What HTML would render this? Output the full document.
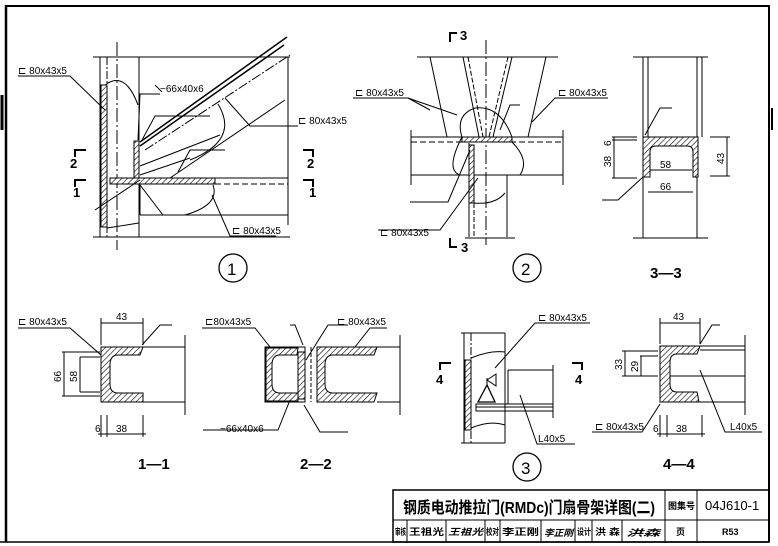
<!DOCTYPE html>
<html><head><meta charset="utf-8"><style>
html,body{margin:0;padding:0;background:#fff}
svg{display:block}
text{font-family:"Liberation Sans","Noto Sans CJK SC",sans-serif;fill:#000}
</style></head><body>
<svg width="778" height="546" viewBox="0 0 778 546" xmlns="http://www.w3.org/2000/svg">
<defs>
<pattern id="h" width="4" height="4" patternUnits="userSpaceOnUse" patternTransform="rotate(45)">
<rect width="4" height="4" fill="#fff"/><line x1="0" y1="0" x2="0" y2="4" stroke="#000" stroke-width="1.2"/>
</pattern>
</defs>
<g fill="none" stroke="#000" stroke-width="1">
<line x1="6" y1="6" x2="769" y2="6" stroke-width="2"/>
<line x1="6" y1="5" x2="6" y2="542" stroke-width="2.5"/>
<line x1="769" y1="5" x2="769" y2="542" stroke-width="2"/>
<line x1="0" y1="542" x2="769" y2="542" stroke-width="1.5"/>
<line x1="2" y1="95" x2="2" y2="130" stroke-width="3"/>
<line x1="772" y1="108" x2="772" y2="130" stroke-width="2"/>
<rect x="393" y="490" width="376" height="52" stroke-width="1.5"/>
<line x1="393" y1="520" x2="769" y2="520"/>
<line x1="665" y1="490" x2="665" y2="542"/>
<line x1="697" y1="490" x2="697" y2="542"/>
<line x1="407" y1="520" x2="407" y2="542"/>
<line x1="446" y1="520" x2="446" y2="542"/>
<line x1="485" y1="520" x2="485" y2="542"/>
<line x1="500" y1="520" x2="500" y2="542"/>
<line x1="541" y1="520" x2="541" y2="542"/>
<line x1="575" y1="520" x2="575" y2="542"/>
<line x1="592" y1="520" x2="592" y2="542"/>
<line x1="622" y1="520" x2="622" y2="542"/>

<line x1="93" y1="57" x2="290" y2="57"/>
<line x1="100" y1="57" x2="100" y2="237"/>
<line x1="107" y1="57" x2="107" y2="237" stroke-dasharray="8,2,2,2"/>
<line x1="117" y1="42" x2="117" y2="250" stroke-dasharray="14,3,2,3"/>
<line x1="139" y1="57" x2="139" y2="237"/>
<line x1="93" y1="237" x2="290" y2="237"/>
<line x1="288" y1="57" x2="288" y2="225"/>
<rect x="101" y="85" width="6" height="142" fill="url(#h)"/>
<rect x="134" y="141" width="5" height="38" fill="url(#h)"/>
<rect x="110" y="178" width="105" height="6" fill="url(#h)"/>
<line x1="215" y1="178" x2="288" y2="178"/>
<line x1="215" y1="184" x2="288" y2="184" stroke-dasharray="6,3"/>
<line x1="140" y1="184" x2="140" y2="215"/>
<line x1="140" y1="215" x2="288" y2="215"/>
<line x1="140" y1="142" x2="287" y2="37" stroke-width="1.5"/>
<line x1="140" y1="146" x2="284" y2="45" stroke-width="1.5"/>
<line x1="145" y1="150" x2="290" y2="55" stroke-dasharray="10,2,2,2"/>
<line x1="95" y1="210" x2="140" y2="180"/>
<line x1="170" y1="178" x2="285" y2="100"/>
<line x1="140" y1="166" x2="220" y2="135"/>
<line x1="140" y1="175" x2="190" y2="158"/>
<path d="M218 104 Q240 140 190 160"/>
<path d="M105 85 Q125 70 138 105"/>
<path d="M213 185 Q220 205 185 215"/>
<path d="M107 228 L139 223"/>
<polyline points="18,76 70,76 105,110"/>
<polyline points="210,116 155,116 142,140"/>
<polyline points="160,94 140,94 138,140"/>
<line x1="155" y1="85" x2="162" y2="92"/>
<polyline points="298,126 250,126 225,98"/>
<polyline points="276,236 230,236 212,195"/>
<polyline points="140,185 163,215 190,215"/>
<polyline points="225,150 190,150 178,172"/>
<polyline points="75,157 75,150 86,150" stroke-width="2"/>
<polyline points="75,187 75,180 86,180" stroke-width="2"/>
<polyline points="303,150 313,150 313,157" stroke-width="2"/>
<polyline points="303,180 313,180 313,187" stroke-width="2"/>
<circle cx="233" cy="268" r="14" stroke-width="1.3"/>

<line x1="417" y1="57" x2="558" y2="57"/>
<line x1="430" y1="57" x2="447" y2="137"/>
<line x1="546" y1="57" x2="528" y2="137"/>
<line x1="463" y1="57" x2="479" y2="137"/>
<line x1="468" y1="57" x2="483" y2="137" stroke-dasharray="5,2"/>
<line x1="512" y1="57" x2="493" y2="137"/>
<line x1="508" y1="57" x2="489" y2="137" stroke-dasharray="5,2"/>
<line x1="486" y1="40" x2="486" y2="245" stroke-dasharray="14,3,2,3"/>
<line x1="411" y1="137" x2="563" y2="137"/>
<rect x="462" y="137" width="50" height="5" fill="url(#h)"/>
<line x1="411" y1="142" x2="563" y2="142" stroke-dasharray="6,3"/>
<line x1="411" y1="175" x2="563" y2="175"/>
<line x1="411" y1="130" x2="411" y2="185"/>
<line x1="563" y1="130" x2="563" y2="185"/>
<line x1="469" y1="143" x2="469" y2="237"/>
<line x1="474" y1="175" x2="474" y2="237" stroke-dasharray="5,2"/>
<line x1="507" y1="175" x2="507" y2="237"/>
<rect x="469" y="145" width="5" height="58" fill="url(#h)"/>
<line x1="465" y1="238" x2="515" y2="238"/>
<path d="M462 137 Q455 115 475 108 Q500 105 512 137"/>
<path d="M462 137 Q445 170 460 175"/>
<path d="M512 142 Q530 160 520 175"/>
<path d="M474 203 Q495 205 505 193"/>
<polyline points="353,98 408,98 457,115"/>
<line x1="408" y1="98" x2="430" y2="110"/>
<polyline points="608,98 555,98 532,122"/>
<polyline points="520,105 510,105 500,130"/>
<polyline points="378,230 440,230 478,178"/>
<polyline points="410,202 448,202 470,150"/>
<polyline points="450,42 450,33 457,33" stroke-width="2"/>
<polyline points="450,238 450,247 457,247" stroke-width="2"/>
<circle cx="527" cy="268" r="14" stroke-width="1.3"/>

<line x1="633" y1="57" x2="708" y2="57"/>
<line x1="633" y1="238" x2="708" y2="238"/>
<line x1="643" y1="57" x2="643" y2="238"/>
<line x1="648" y1="57" x2="648" y2="137"/>
<line x1="697" y1="57" x2="697" y2="238"/>
<line x1="702" y1="57" x2="702" y2="137"/>
<path d="M643 137 H698 V177 H693 V152 Q693 146 687 146 H656 Q650 146 650 152 V177 H643 Z" fill="url(#h)"/>
<line x1="612" y1="137" x2="637" y2="137"/><line x1="612" y1="140" x2="637" y2="140"/>
<line x1="612" y1="178" x2="637" y2="178"/>
<line x1="614" y1="137" x2="614" y2="178"/>
<line x1="710" y1="137" x2="730" y2="137"/><line x1="710" y1="176" x2="730" y2="176"/>
<line x1="727" y1="137" x2="727" y2="176"/>
<line x1="650" y1="170" x2="692" y2="170"/>
<line x1="648" y1="192" x2="693" y2="192"/>
<polyline points="602,200 618,200 643,177"/>
<polyline points="672,108 660,108 645,135"/>

<path d="M101 347 H143 L140 355 H118 Q110 355 110 365 V384 Q110 393 118 393 H143 V402 H101 Z" fill="url(#h)"/>
<line x1="143" y1="347" x2="185" y2="347"/>
<line x1="143" y1="402" x2="185" y2="402"/>
<line x1="185" y1="335" x2="185" y2="415"/>
<line x1="101" y1="323" x2="143" y2="323"/>
<line x1="101" y1="318" x2="101" y2="345"/><line x1="143" y1="318" x2="143" y2="345"/>
<line x1="62" y1="352" x2="100" y2="352"/><line x1="62" y1="396" x2="100" y2="396"/>
<line x1="64" y1="352" x2="64" y2="396"/>
<line x1="80" y1="357" x2="100" y2="357"/><line x1="80" y1="392" x2="100" y2="392"/>
<line x1="80" y1="357" x2="80" y2="392"/>
<line x1="101" y1="415" x2="101" y2="437"/><line x1="107" y1="415" x2="107" y2="437"/>
<line x1="143" y1="415" x2="143" y2="437"/>
<line x1="98" y1="434" x2="146" y2="434"/>
<polyline points="18,328 70,328 101,355"/>
<polyline points="172,325 160,325 142,345"/>

<path d="M265 347 H305 V402 H265 Z"/>
<path d="M266 348 H298 L297 355 H280 Q272 355 272 365 V384 Q272 393 280 393 H298 V401 H266 Z" fill="url(#h)"/>
<rect x="298" y="352" width="7" height="47" fill="url(#h)"/>
<path d="M317 347 H377 L374 355 H333 Q325 355 325 365 V384 Q325 393 333 393 H377 L374 402 H317 Z" fill="url(#h)"/>
<line x1="377" y1="347" x2="400" y2="347"/>
<line x1="377" y1="402" x2="400" y2="402"/>
<line x1="400" y1="335" x2="400" y2="415"/>
<line x1="311" y1="347" x2="311" y2="402" stroke-dasharray="4,2"/>
<polyline points="202,328 255,328 270,347"/>
<polyline points="387,328 370,328 355,347"/>
<polyline points="290,325 295,325 303,345"/>
<polyline points="348,325 328,325 306,360"/>
<polyline points="348,432 320,432 304,405"/>
<polyline points="203,430 278,430 290,400"/>

<line x1="461" y1="333" x2="505" y2="333"/>
<line x1="461" y1="443" x2="505" y2="443"/>
<line x1="464" y1="333" x2="464" y2="443"/>
<line x1="471" y1="333" x2="471" y2="443" stroke-dasharray="8,2,2,2"/>
<line x1="505" y1="333" x2="505" y2="443"/>
<rect x="465" y="360" width="6" height="70" fill="url(#h)"/>
<line x1="508" y1="370" x2="553" y2="370"/>
<line x1="508" y1="370" x2="508" y2="404"/>
<line x1="553" y1="365" x2="553" y2="418"/>
<rect x="476" y="404" width="77" height="7"/>
<line x1="476" y1="407" x2="553" y2="407"/>
<path d="M471 358 Q490 350 505 352"/><path d="M471 428 Q490 420 505 425"/>
<path d="M478 402 L487 385 L495 402 Z" stroke-width="1.3"/>
<line x1="487" y1="385" x2="487" y2="378"/><path d="M487 380 L496 374 L496 386 Z"/>
<polyline points="590,323 535,323 495,368"/>
<polyline points="575,444 537,444 520,395"/>
<polyline points="440,370 440,363 451,363" stroke-width="2"/>
<polyline points="572,363 582,363 582,370" stroke-width="2"/>
<circle cx="527" cy="467" r="14" stroke-width="1.3"/>

<path d="M660 346 H700 L697 354 H677 Q670 354 670 362 V384 Q670 392 677 392 H697 L699 402 H660 Z" fill="url(#h)"/>
<line x1="700" y1="346" x2="745" y2="346"/>
<line x1="700" y1="350" x2="745" y2="350"/>
<line x1="699" y1="402" x2="745" y2="402"/>
<line x1="670" y1="376" x2="745" y2="376"/>
<line x1="745" y1="335" x2="745" y2="415"/>
<line x1="660" y1="323" x2="700" y2="323"/>
<line x1="660" y1="318" x2="660" y2="344"/><line x1="700" y1="318" x2="700" y2="344"/>
<line x1="622" y1="351" x2="658" y2="351"/><line x1="622" y1="376" x2="658" y2="376"/>
<line x1="625" y1="351" x2="625" y2="376"/>
<line x1="640" y1="356" x2="658" y2="356"/><line x1="640" y1="376" x2="645" y2="376"/>
<line x1="641" y1="356" x2="641" y2="376"/>
<line x1="660" y1="415" x2="660" y2="437"/><line x1="667" y1="415" x2="667" y2="437"/>
<line x1="702" y1="415" x2="702" y2="437"/>
<line x1="657" y1="434" x2="705" y2="434"/>
<polyline points="592,432 642,432 660,404"/>
<polyline points="762,432 725,432 700,370"/>
<polyline points="720,325 712,325 700,344"/>
</g>

<g font-size="10">
<text x="18" y="74">⊏ 80x43x5</text>
<text x="160" y="92">−66x40x6</text>
<text x="298" y="124">⊏ 80x43x5</text>
<text x="232" y="234">⊏ 80x43x5</text>
<text x="355" y="96">⊏ 80x43x5</text>
<text x="558" y="96">⊏ 80x43x5</text>
<text x="380" y="236">⊏ 80x43x5</text>
<text x="18" y="325">⊏ 80x43x5</text>
<text x="205" y="325">⊏80x43x5</text>
<text x="337" y="325">⊏ 80x43x5</text>
<text x="220" y="432">−66x40x6</text>
<text x="538" y="321">⊏ 80x43x5</text>
<text x="538" y="442">L40x5</text>
<text x="595" y="430">⊏ 80x43x5</text>
<text x="730" y="430">L40x5</text>
<text x="116" y="320">43</text>
<text x="116" y="432">38</text>
<text x="95" y="432">6</text>
<text x="660" y="168">58</text>
<text x="660" y="190">66</text>
<text x="673" y="320">43</text>
<text x="676" y="432">38</text>
<text x="653" y="432">6</text>
<text transform="translate(61,382) rotate(-90)">66</text>
<text transform="translate(77,382) rotate(-90)">58</text>
<text transform="translate(611,167) rotate(-90)">38</text>
<text transform="translate(611,146) rotate(-90)">6</text>
<text transform="translate(724,164) rotate(-90)">43</text>
<text transform="translate(622,370) rotate(-90)">33</text>
<text transform="translate(638,372) rotate(-90)">29</text>
</g>
<g font-size="13" font-weight="bold">
<text x="70" y="168">2</text><text x="73" y="197">1</text>
<text x="307" y="168">2</text><text x="309" y="197">1</text>
<text x="460" y="40">3</text><text x="461" y="252">3</text>
<text x="436" y="384">4</text><text x="575" y="384">4</text>
</g>
<g font-size="17">
<text x="227" y="275">1</text>
<text x="521" y="275">2</text>
<text x="521" y="474">3</text>
</g>
<g font-size="15" font-weight="bold">
<text x="650" y="278">3—3</text>
<text x="138" y="469">1—1</text>
<text x="300" y="469">2—2</text>
<text x="663" y="469">4—4</text>
</g>
<text x="403" y="513" font-size="16" font-weight="bold" textLength="252" lengthAdjust="spacingAndGlyphs">钢质电动推拉门(RMDc)门扇骨架详图(二)</text>
<text x="668" y="509" font-size="9" font-weight="bold" textLength="27" lengthAdjust="spacingAndGlyphs">图集号</text>
<text x="705" y="510" font-size="13" font-family="Liberation Mono,monospace">04J610-1</text>
<g font-size="9" font-weight="bold">
<text x="395" y="535" textLength="11" lengthAdjust="spacingAndGlyphs">审核</text>
<text x="409" y="535" textLength="35" lengthAdjust="spacingAndGlyphs">王祖光</text>
<text x="448" y="535" font-style="italic" textLength="35" lengthAdjust="spacingAndGlyphs">王祖光</text>
<text x="486" y="535" textLength="13" lengthAdjust="spacingAndGlyphs">校对</text>
<text x="502" y="535" textLength="37" lengthAdjust="spacingAndGlyphs">李正刚</text>
<text x="544" y="536" font-style="italic" textLength="29" lengthAdjust="spacingAndGlyphs">李正刚</text>
<text x="577" y="535" textLength="14" lengthAdjust="spacingAndGlyphs">设计</text>
<text x="595" y="535" textLength="25" lengthAdjust="spacingAndGlyphs">洪 森</text>
<text x="626" y="536" font-style="italic" textLength="34" lengthAdjust="spacingAndGlyphs">洪森</text>
<text x="676" y="535">页</text>
<text x="722" y="535" font-family="Liberation Mono,monospace">R53</text>
</g>
</svg>
</body></html>
